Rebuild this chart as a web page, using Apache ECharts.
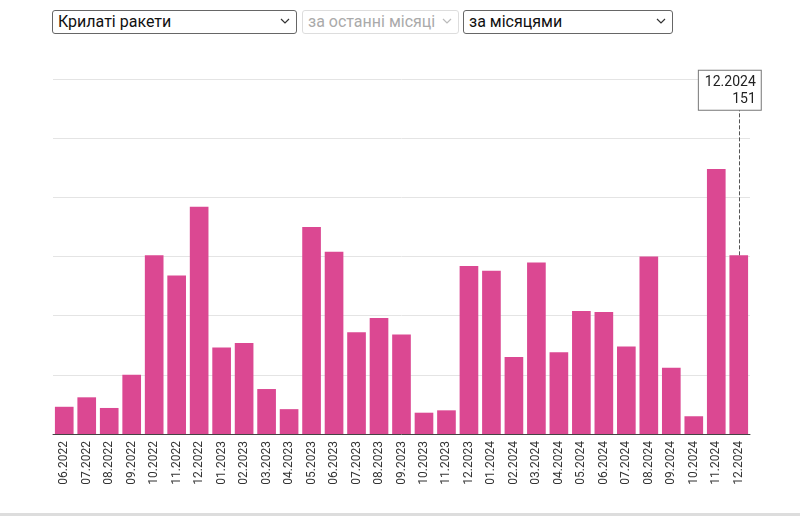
<!DOCTYPE html>
<html><head><meta charset="utf-8">
<script src="https://cdn.jsdelivr.net/npm/echarts@6/dist/echarts.min.js"></script>
<style>
html,body{margin:0;padding:0;background:#fff;width:800px;height:516px;overflow:hidden;font-family:Roboto,"Noto Sans",sans-serif;}
#chart{position:absolute;left:0;top:0;width:800px;height:516px;}
.sel{position:absolute;top:10px;height:22px;border:1px solid #666;border-radius:3px;background:#fff;font-size:16px;line-height:22px;color:#111;padding-left:5px;box-sizing:content-box;}
.sel.dis{border-color:#ddd;color:#aaa;}
.sel svg{position:absolute;right:6px;top:7px;}
#bottomline{position:absolute;left:0;top:513px;width:800px;height:3px;background:#ddd;}
</style></head>
<body>
<div id="chart"></div>
<div class="sel" style="left:52px;width:238px;">Крилаті ракети<svg width="10" height="7"><path d="M1 1 L5 5 L9 1" stroke="#333" fill="none" stroke-width="1.2"/></svg></div>
<div class="sel dis" style="left:302px;width:150px;">за останні місяці<svg width="10" height="7"><path d="M1 1 L5 5 L9 1" stroke="#bbb" fill="none" stroke-width="1.2"/></svg></div>
<div class="sel" style="left:463px;width:203px;">за місяцями<svg width="10" height="7"><path d="M1 1 L5 5 L9 1" stroke="#333" fill="none" stroke-width="1.2"/></svg></div>
<div id="bottomline"></div>
<script>
const categories = ["06.2022","07.2022","08.2022","09.2022","10.2022","11.2022","12.2022",
  "01.2023","02.2023","03.2023","04.2023","05.2023","06.2023","07.2023","08.2023","09.2023","10.2023","11.2023","12.2023",
  "01.2024","02.2024","03.2024","04.2024","05.2024","06.2024","07.2024","08.2024","09.2024","10.2024","11.2024","12.2024"];
const values = [23,31,22,50,151,134,192,
  73,77,38,21,175,154,86,98,84,18,20,142,
  138,65,145,69,104,103,74,150,56,15,224,151];
const highlightIndex = 30;
const tooltipTop = 274;

const chart = echarts.init(document.getElementById('chart'));
chart.setOption({
  animation:false,
  grid:{left:53,right:50,top:79,bottom:82},
  xAxis:{type:'category',data:categories,
    axisLine:{lineStyle:{color:'#444'}},
    axisTick:{alignWithLabel:true,lineStyle:{color:'#444'},length:5},
    axisLabel:{rotate:90,interval:0,color:'#333',fontSize:12,fontFamily:'Roboto',margin:7}},
  yAxis:{type:'value',min:0,max:300,interval:50,
    axisLabel:{show:false},axisLine:{show:false},axisTick:{show:false},
    splitLine:{lineStyle:{color:'#e4e4e4'}}},
  series:[{type:'bar',data:values,barCategoryGap:'17%',
    itemStyle:{color:'#db4892'},
    markLine:{silent:true,symbol:'none',
      lineStyle:{type:'dashed',color:'#555',width:1},
      label:{show:false},
      data:[[{coord:[categories[highlightIndex],values[highlightIndex]]},
             {coord:[categories[highlightIndex],tooltipTop]}]]},
    markPoint:{silent:true,symbol:'rect',symbolSize:0.01,
      label:{show:true,position:'top',distance:0,offset:[22,0],
        formatter:categories[highlightIndex]+'\n'+values[highlightIndex],
        align:'right',color:'#222',fontSize:14,fontFamily:'Roboto',lineHeight:17,
        backgroundColor:'#fff',borderColor:'#777',borderWidth:1,padding:[3,5,2,6]},
      data:[{coord:[categories[highlightIndex],tooltipTop]}]}
  }]
});
</script>
</body></html>
